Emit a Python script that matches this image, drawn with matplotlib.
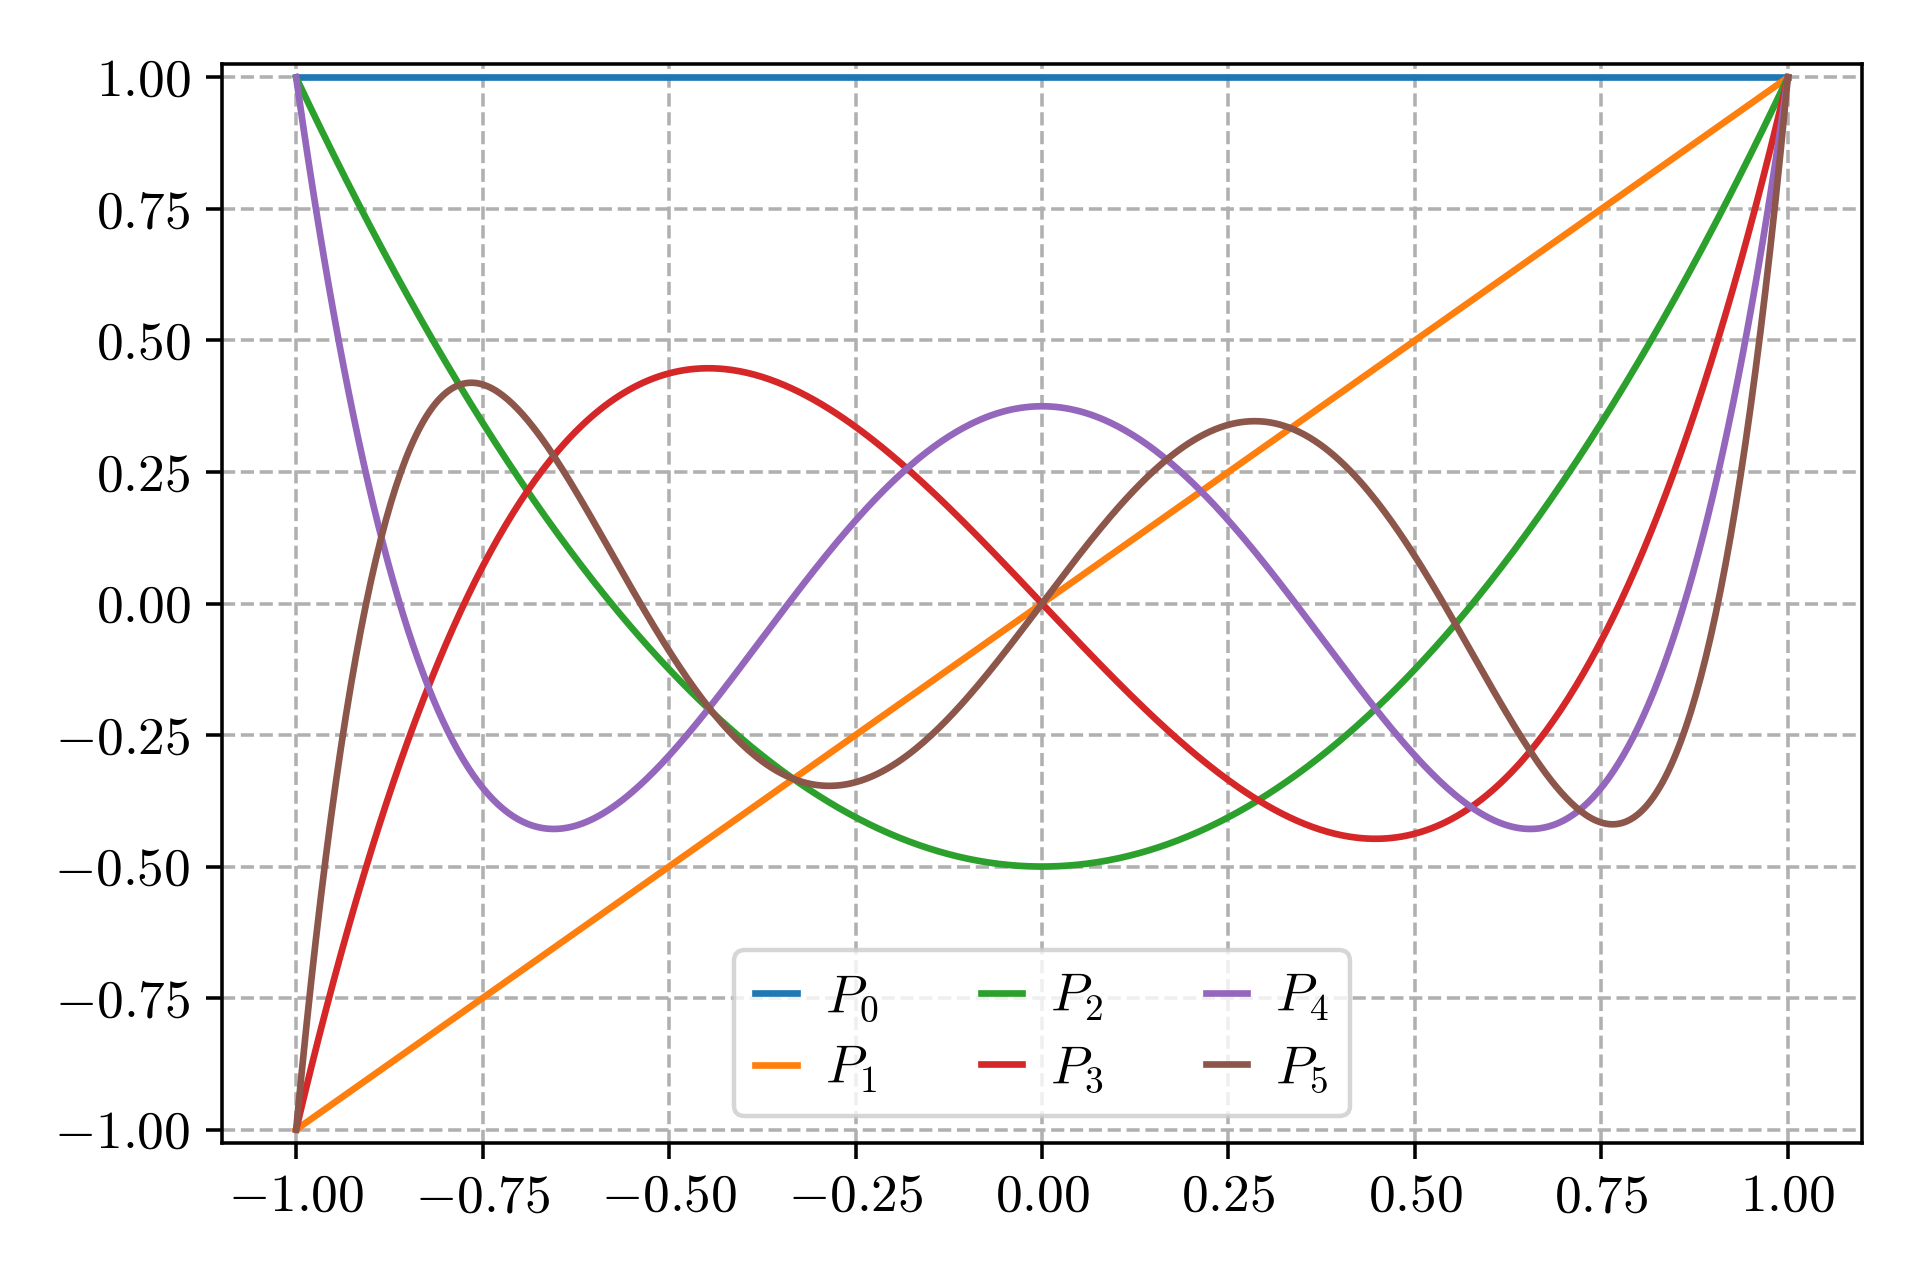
import numpy as np
import matplotlib
matplotlib.use("Agg")
import matplotlib.pyplot as plt

# Legendre polynomials P0..P5, power-basis coefficients (lowest order first)
labels = [r"$P_0$", r"$P_1$", r"$P_2$", r"$P_3$", r"$P_4$", r"$P_5$"]
p0 = [1.0]
p1 = [0.0, 1.0]
p2 = [-0.5, 0.0, 1.5]
p3 = [0.0, -1.5, 0.0, 2.5]
p4 = [0.375, 0.0, -3.75, 0.0, 4.375]
p5 = [0.0, 1.875, 0.0, -8.75, 0.0, 7.875]
coeffs = [p0, p1, p2, p3, p4, p5]
ticks = [-1.0, -0.75, -0.5, -0.25, 0.0, 0.25, 0.5, 0.75, 1.0]

plt.rcParams["font.family"] = "serif"
plt.rcParams["font.serif"] = ["cmr10"]
plt.rcParams["mathtext.fontset"] = "cm"
plt.rcParams["axes.formatter.use_mathtext"] = True
plt.rcParams["font.size"] = 12

fig, ax = plt.subplots(figsize=(6, 4), dpi=320)
fig.subplots_adjust(left=0.1154, right=0.970, top=0.950, bottom=0.107)

x = np.linspace(-1, 1, 600)
for c, lab in zip(coeffs, labels):
    ax.plot(x, np.polynomial.polynomial.polyval(x, c), lw=1.5, label=lab)

ax.set_xticks(ticks)
ax.set_yticks(ticks)
ax.set_ylim(-1.0256, 1.0256)
ax.grid(True, linestyle="--", color="#b0b0b0", lw=0.8)
ax.legend(loc="lower center", ncol=3, fontsize=12, labelspacing=0.4,
          handlelength=0.78, handletextpad=0.52, columnspacing=1.92)

fig.savefig("out.png", dpi=320)
